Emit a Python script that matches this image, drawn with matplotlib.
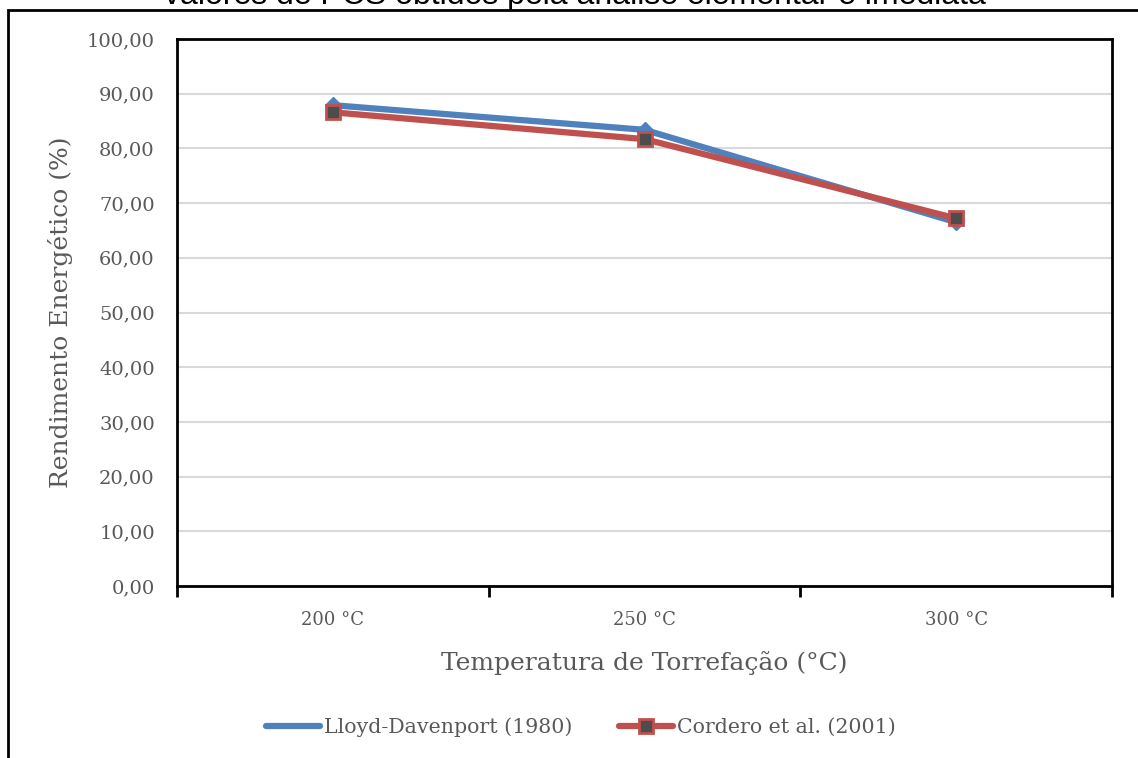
import matplotlib
matplotlib.use('Agg')
import matplotlib.pyplot as plt  # noqa: E402
from matplotlib.patches import Rectangle  # noqa: E402
from matplotlib.ticker import FixedLocator, FuncFormatter  # noqa: E402

# Dados
temperaturas = ['200 °C', '250 °C', '300 °C']
lloyd = [87.9, 83.4, 66.5]
cordero = [86.6, 81.7, 67.2]

titulo = 'valores de PCS obtidos pela análise elementar e imediata'
serif = ['Cambria', 'DejaVu Serif']
texto_cinza = '#595959'

W, H = 1138, 758
fig = plt.figure(figsize=(W / 100, H / 100), dpi=100)

# Moldura externa (cortada à direita e embaixo)
fig.patches.append(Rectangle((8 / W, -0.05), 1.2, 1 - 10 / H + 0.05,
                             transform=fig.transFigure, fill=False,
                             edgecolor='black', linewidth=2))

# Título parcialmente cortado no topo, como no original
fig.text(575 / W, 1 - 4 / H, titulo, ha='center', va='baseline',
         fontsize=23, family='Liberation Sans', color='black')

ax = fig.add_axes([177 / W, 1 - 586 / H, (1112 - 177) / W, (586 - 39) / H])

x = range(len(temperaturas))
ax.plot(x, lloyd, color='#4f81bd', linewidth=4.5, solid_capstyle='round',
        label='Lloyd-Davenport (1980)', zorder=3)
ax.plot(x, lloyd, linestyle='none', marker='D', markersize=8,
        color='#4f81bd', zorder=3)
ax.plot(x, cordero, color='#c0504d', linewidth=4.5, solid_capstyle='round',
        marker='s', markersize=10, markerfacecolor='#4d4d4d',
        markeredgecolor='#c0504d', markeredgewidth=2,
        label='Cordero et al. (2001)', zorder=4)

ax.set_xlim(-0.5, 2.5)
ax.set_ylim(0, 100)
ax.set_yticks(range(0, 101, 10))
ax.yaxis.set_major_formatter(FuncFormatter(lambda v, _: f'{v:.2f}'.replace('.', ',')))
ax.grid(axis='y', color='#d9d9d9', linewidth=1.5, zorder=0)
ax.set_axisbelow(True)

ax.xaxis.set_major_locator(FixedLocator([-0.5, 0.5, 1.5, 2.5]))
ax.xaxis.set_minor_locator(FixedLocator(list(x)))
ax.set_xticklabels([])
ax.set_xticklabels(temperaturas, minor=True)
ax.tick_params(axis='x', which='major', length=8, width=2, direction='out')
ax.tick_params(axis='x', which='minor', length=0, pad=18,
               labelsize=13, labelcolor=texto_cinza)
ax.tick_params(axis='y', length=0, pad=16, labelsize=14, labelcolor=texto_cinza)
for lbl in ax.get_yticklabels() + ax.get_xticklabels(minor=True):
    lbl.set_family(serif)

for s in ax.spines.values():
    s.set_linewidth(2)
    s.set_color('black')

ax.set_xlabel('Temperatura de Torrefação (°C)', fontsize=18, color=texto_cinza,
              family=serif, labelpad=16)
ax.set_ylabel('Rendimento Energético (%)', fontsize=18, color=texto_cinza,
              family=serif, labelpad=10)

ax.legend(loc='center', bbox_to_anchor=(581 / W, 1 - 727 / H),
          bbox_transform=fig.transFigure, ncol=2, frameon=False,
          prop={'family': serif, 'size': 14.8}, labelcolor=texto_cinza,
          handlelength=2.6, handletextpad=0.2, columnspacing=2.3)

fig.savefig('out.png', dpi=100)
